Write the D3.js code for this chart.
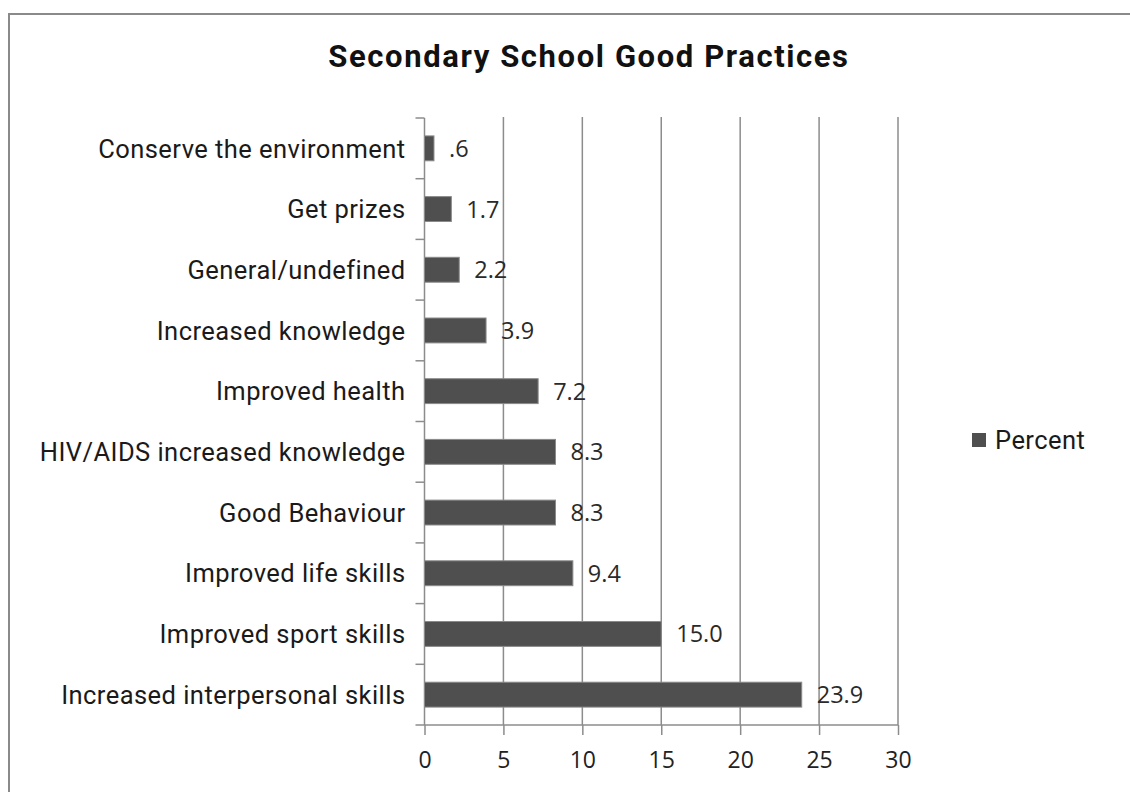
<!DOCTYPE html>
<html>
<head>
<meta charset="utf-8">
<script src="https://cdn.jsdelivr.net/npm/d3@7"></script>
<style>
  body { margin: 0; background: #fff; }
</style>
</head>
<body>
<svg id="chart"></svg>
<script>
// categories top to bottom as in the picture
var categories = [
  "Conserve the environment",
  "Get prizes",
  "General/undefined",
  "Increased knowledge",
  "Improved health",
  "HIV/AIDS increased knowledge",
  "Good Behaviour",
  "Improved life skills",
  "Improved sport skills",
  "Increased interpersonal skills"
]
var percent = [0.6, 1.7, 2.2, 3.9, 7.2, 8.3, 8.3, 9.4, 15.0, 23.9]
var valueLabels = [".6", "1.7", "2.2", "3.9", "7.2", "8.3", "8.3", "9.4", "15.0", "23.9"]
var xTicks = [0, 5, 10, 15, 20, 25, 30]

var dimensions = {
  width: 1130,
  height: 792,
  margin: { top: 118, bottom: 67, right: 232, left: 424.5 }
}

var data = categories.map((c, i) => ({ cat: c, val: percent[i], label: valueLabels[i] }))

var svg = d3.select("#chart")
  .attr("width", dimensions.width)
  .attr("height", dimensions.height)

// frame
svg.append("rect")
  .attr("x", 9).attr("y", 14)
  .attr("width", 1200).attr("height", 900)
  .attr("fill", "none")
  .attr("stroke", "#8a8a8a")
  .attr("stroke-width", 2)

var x0 = dimensions.margin.left
var x1 = dimensions.width - dimensions.margin.right
var yTop = dimensions.margin.top
var yBot = dimensions.height - dimensions.margin.bottom

var xScale = d3.scaleLinear().domain([0, 30]).range([x0, x1])
var yScale = d3.scaleBand().domain(categories).range([yTop, yBot])

// title
svg.append("text")
  .attr("x", 589).attr("y", 67)
  .attr("text-anchor", "middle")
  .style("font-family", "Roboto, sans-serif")
  .style("font-weight", "bold")
  .style("font-size", "31px")
  .style("letter-spacing", "1.6px")
  .attr("fill", "#111")
  .text("Secondary School Good Practices")

// vertical gridlines
svg.append("g")
  .selectAll("line")
  .data(xTicks.filter(d => d > 0))
  .enter()
  .append("line")
  .attr("x1", d => xScale(d)).attr("x2", d => xScale(d))
  .attr("y1", yTop - 1).attr("y2", yBot)
  .attr("stroke", "#8c8c8c")
  .attr("stroke-width", 1.5)

// x axis
var xAxisgen = d3.axisBottom(xScale).tickValues(xTicks).tickSize(10).tickPadding(17)
var xAxis = svg.append("g")
  .attr("transform", `translate(0,${yBot})`)
  .call(xAxisgen)
xAxis.select(".domain").remove()
xAxis.append("line")
  .attr("x1", x0 - 9).attr("x2", x1)
  .attr("stroke", "#8c8c8c").attr("stroke-width", 1.5)
xAxis.selectAll(".tick line").attr("stroke", "#8c8c8c").attr("stroke-width", 1.5)
xAxis.selectAll(".tick text")
  .style("font-family", "'Open Sans', sans-serif")
  .style("font-size", "23px")
  .attr("fill", "#222")

// y axis line + ticks at band edges
var yAxis = svg.append("g")
yAxis.append("line")
  .attr("x1", x0).attr("x2", x0)
  .attr("y1", yTop).attr("y2", yBot)
  .attr("stroke", "#8c8c8c").attr("stroke-width", 1.5)
yAxis.selectAll(".ytick")
  .data(categories)
  .enter()
  .append("line")
  .attr("class", "ytick")
  .attr("x1", x0 - 9).attr("x2", x0)
  .attr("y1", d => yScale(d)).attr("y2", d => yScale(d))
  .attr("stroke", "#8c8c8c").attr("stroke-width", 1.5)

// category labels
svg.append("g")
  .selectAll("text")
  .data(categories)
  .enter()
  .append("text")
  .attr("x", x0 - 19)
  .attr("y", d => yScale(d) + yScale.bandwidth() / 2)
  .attr("dy", "0.36em")
  .attr("text-anchor", "end")
  .style("font-family", "Roboto, sans-serif")
  .style("font-size", "25.5px")
  .style("letter-spacing", "0.45px")
  .attr("fill", "#1a1a1a")
  .text(d => d)

// bars
var barH = yScale.bandwidth() * 0.41
svg.append("g")
  .selectAll("rect")
  .data(data)
  .enter()
  .append("rect")
  .attr("x", xScale(0))
  .attr("y", d => yScale(d.cat) + yScale.bandwidth() / 2 - barH / 2)
  .attr("width", d => xScale(d.val) - xScale(0))
  .attr("height", barH)
  .attr("fill", "#4f4f4f")
  .attr("stroke", "#8a8a8a")
  .attr("stroke-width", 1)

// value labels
svg.append("g")
  .selectAll("text")
  .data(data)
  .enter()
  .append("text")
  .attr("x", d => xScale(d.val) + 15)
  .attr("y", d => yScale(d.cat) + yScale.bandwidth() / 2)
  .attr("dy", "0.36em")
  .style("font-family", "'Open Sans', sans-serif")
  .style("font-size", "23.5px")
  .attr("fill", "#2a2a2a")
  .text(d => d.label)

// legend
var legend = svg.append("g").attr("transform", "translate(972,433)")
legend.append("rect")
  .attr("width", 14).attr("height", 14)
  .attr("fill", "#4f4f4f")
legend.append("text")
  .attr("x", 23).attr("y", 16)
  .style("font-family", "Roboto, sans-serif")
  .style("font-size", "25.5px")
  .style("letter-spacing", "0.45px")
  .attr("fill", "#1a1a1a")
  .text("Percent")
</script>
</body>
</html>
